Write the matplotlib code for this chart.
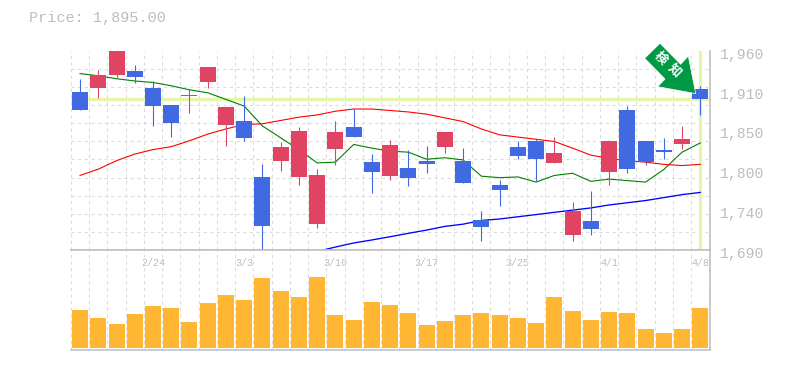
import numpy as np
import matplotlib
matplotlib.use("Agg")
import matplotlib.pyplot as plt
from matplotlib.patches import Polygon
from matplotlib.transforms import ScaledTranslation

highs = [1922,1934,1961,1941,1919,1887,1908,1938,1884,1898,1807,1836.5,1857,1800,1865,1881,1820,1839,
         1826,1831,1850,1828,1743,1785,1838,1841,1843,1755,1770,1839,1885,1838,1842,1858,1912.5]
tops = [1904,1927,1959,1932,1910,1887,1900,1938,1884,1865,1789,1830,1851.5,1792,1850,1857,1809,1832.5,
        1801,1811,1850,1811,1731,1778,1830,1838,1822,1743,1729,1838,1879,1838,1826,1841,1908.5]
bottoms = [1880,1910,1927,1925,1885,1862,1898,1917,1860,1842,1723,1811,1789,1725,1827,1843,1796,1790,
           1788,1807,1830,1781,1721,1771,1817.5,1813.5,1808,1710,1718.5,1796,1800,1809,1823,1834,1895]
lows = [1880,1896,1923,1916,1858,1843,1876,1910,1831,1838,1687,1797,1778,1720,1805,1843,1767,1785,
        1777,1794.5,1822,1781,1702,1750,1813.5,1784,1808,1702,1710,1778,1794.5,1805,1813.5,1827,1873]
rising = [0,1,1,0,0,0,1,1,1,0,0,1,1,1,1,0,0,1,0,0,1,0,0,0,0,0,1,1,0,1,0,0,0,1,0]

ma_short = [1929,1926,1922,1919,1917,1912.5,1907,1903,1894,1885,1858,1842,1826,1808,1809,1833,1828,1824,
            1822.5,1813,1815,1812,1790,1788,1789,1782,1791,1794,1783,1786,1784,1782,1799,1822.5,1835]
ma_mid = [1791,1799.5,1811,1820,1826,1830,1838,1847,1854,1860,1861,1865.5,1870,1873,1878,1881,1881,1879,
          1877,1874,1869,1864,1854,1846,1843,1840,1837,1828,1818.5,1814,1811,1809,1806,1804.4,1806]
ma_long = [None]*13 + [1688,1694,1699.5,1703.6,1708,1712.6,1717,1722,1725,1730,1732,1735,1738,1741,1744,
                       1747,1751,1754,1757,1761,1765,1768]
volumes = [114,90,72,102,126,120,78,135,159,144,210,171,153,213,99,84,138,129,
           105,69,81,99,105,99,90,75,153,111,84,108,105,57,45,57,120]

date_pos = [4,9,14,19,24,29,34]
date_labels = ["2/24","3/3","3/10","3/17","3/25","4/1","4/8"]
price_ticks = [1960,1906,1852,1798,1744,1690]
price_labels = ["1,960","1,910","1,850","1,800","1,740","1,690"]
current_price = 1895

W, H = 785, 370
GRAY = "#bdbdbd"
GRID = "#dcdcdc"
BLUE = "#4169e1"
RED = "#e04462"
ORANGE = "#ffb733"
HILITE = "#e4f6a8"
FONT = "Liberation Mono"
PX = 0.72

fig = plt.figure(figsize=(W/100, H/100), dpi=100)
def rect(l, t, r, b):
    return [l/W, 1-b/H, (r-l)/W, (b-t)/H]

ax = fig.add_axes(rect(70.9, 50.7, 710.3, 250))
vol = fig.add_axes(rect(70.9, 250, 710.3, 350))
n = len(highs)
xs = np.arange(n)
xlim = (-0.5, 34.55)

for a in (ax, vol):
    a.set_xlim(*xlim)
    a.set_xticks(np.arange(-0.5, 35), minor=True)
    a.grid(True, which="minor", axis="x", color=GRID, lw=PX*1.1, ls=(0, (3, 3)), zorder=0)
    a.set_axisbelow(True)
    a.spines["left"].set_visible(False)
    a.spines["right"].set(color=GRAY, lw=1.1)
    a.tick_params(which="both", length=0)

# price panel
ax.set_ylim(1690, 1960)
ax.set_yticks(np.linspace(1690, 1960, 12), minor=True)
ax.grid(True, which="minor", axis="y", color=GRID, lw=PX*1.1, ls=(0, (3, 3)), zorder=0)
ax.spines["top"].set_visible(False)
ax.spines["bottom"].set(color=GRAY, lw=1.1)
ax.set_xticks([])
ax.yaxis.tick_right()
ax.set_yticks(price_ticks, price_labels)
ax.tick_params(axis="y", which="major", length=0, pad=7.2, labelcolor=GRAY, labelsize=10.6)
offset = ScaledTranslation(0, -2.5/100, fig.dpi_scale_trans)
for t in ax.get_yticklabels():
    t.set_fontfamily(FONT)
    t.set_transform(t.get_transform() + offset)

ax.axhline(current_price, color=HILITE, lw=2.3, zorder=1)
ax.axvline(n-1, color=HILITE, lw=2.3, zorder=1, ymax=0.995)
ax.plot(xs, ma_short, color="#008000", lw=0.8, zorder=2)
ax.plot(xs, ma_mid, color="#ff0000", lw=0.8, zorder=2)
ax.plot(xs, [np.nan if v is None else v for v in ma_long], color="#0000ff", lw=0.95, zorder=2)

colors = [RED if r else BLUE for r in rising]
ax.vlines(xs, lows, highs, colors=colors, lw=0.8, zorder=3)
ax.bar(xs, np.array(tops)-np.array(bottoms), bottom=bottoms, width=0.877, color=colors, lw=0, zorder=4)

# volume panel
vol.set_ylim(-6, 294)
vol.set_yticks([])
vol.spines["top"].set(color=GRAY, lw=1.1)
vol.spines["bottom"].set(color=GRAY, lw=1.1)
vol.bar(xs, volumes, width=0.877, color=ORANGE, lw=0, zorder=3)
vol.set_xticks(date_pos, date_labels)
vol.tick_params(axis="x", which="major", labeltop=True, labelbottom=False, top=False, bottom=False,
                pad=-13, labelcolor=GRAY, labelsize=7.2)
for t in vol.get_xticklabels():
    t.set_fontfamily(FONT)

# overlay in pixel units for the title and the marker
ov = fig.add_axes([0, 0, 1, 1], facecolor="none")
ov.set_xlim(0, W)
ov.set_ylim(H, 0)
ov.axis("off")
ov.text(29, 18, f"Price: {current_price:,.2f}", color=GRAY, fontsize=10.9, family=FONT, va="center", ha="left")
arrow = [(660, 43.3), (644.7, 58.3), (665, 79), (657.7, 86.7), (695.7, 93.6), (688.3, 56), (680.7, 64.3)]
ov.add_patch(Polygon(arrow, closed=True, facecolor="#009944", edgecolor="white", lw=0.5, zorder=5))
for ch, cx, cy in (("検", 660.8, 58.5), ("知", 673.2, 70.8)):
    ov.text(cx, cy, ch, color="white", fontsize=9.2, fontweight="bold", rotation=-45,
            rotation_mode="anchor", ha="center", va="center", family="Noto Sans CJK JP", zorder=6)

fig.savefig("out.png", dpi=100)
